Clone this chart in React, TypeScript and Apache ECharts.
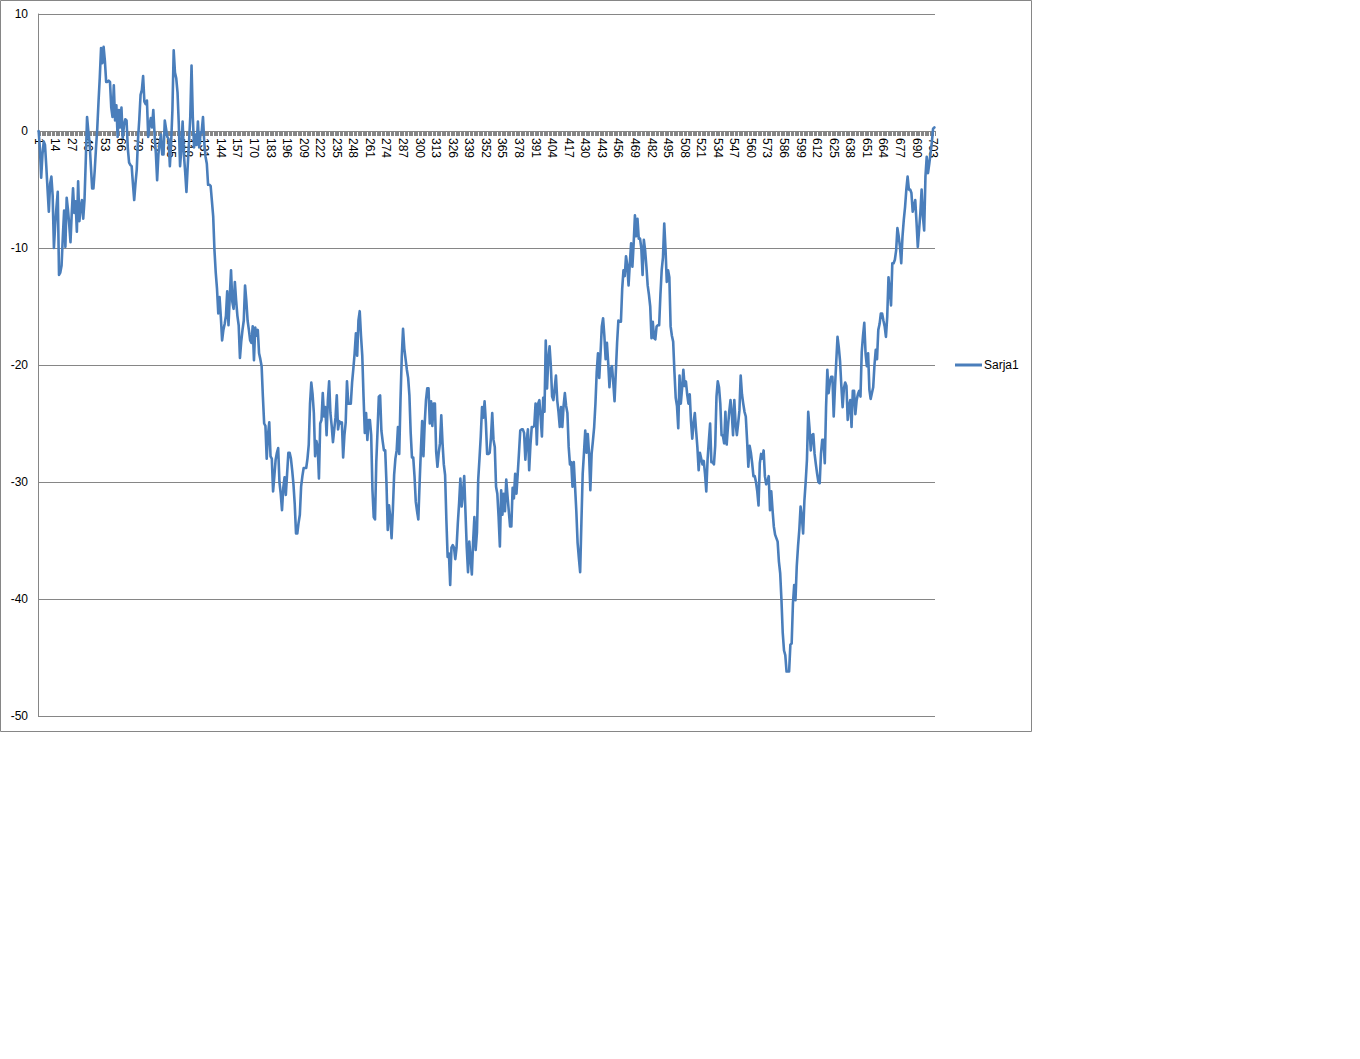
import React, { useEffect, useRef } from "react";
import * as echarts from "echarts";

const seriesName = "Sarja1";

const sarja1: number[] = [
  0.0, -1.5, -4.0, -2.0, -0.9, -1.2, -3.0, -5.0, -6.9, -4.5,
  -3.9, -5.5, -10.0, -8.0, -6.5, -5.2, -12.3, -12.1, -11.5, -9.0,
  -6.8, -9.9, -5.7, -6.7, -8.0, -9.5, -7.0, -4.9, -7.0, -6.0,
  -8.6, -4.3, -7.7, -6.5, -5.9, -7.5, -5.9, -2.5, 1.2, 0.0,
  -1.0, -3.0, -4.9, -4.9, -3.4, -1.5, 0.2, 2.5, 4.6, 7.1,
  5.8, 7.2, 6.0, 4.2, 4.2, 4.3, 4.2, 2.0, 1.2, 3.9,
  0.9, 2.2, -0.5, 1.8, 0.3, 2.0, -0.6, 0.5, 1.0, 0.9,
  -1.5, -2.7, -2.9, -3.0, -4.5, -5.9, -4.5, -3.3, -0.7, 1.0,
  3.1, 3.5, 4.7, 2.5, 2.3, 2.6, -0.5, 0.5, 1.1, 0.3,
  1.8, -0.3, -1.9, -4.2, -2.0, -1.0, -0.3, -2.0, -2.0, 0.9,
  0.2, -0.5, -0.7, -3.0, -1.0, 1.8, 6.9, 5.0, 4.5, 3.3,
  0.6, -3.0, -1.5, 0.8, -2.0, -3.5, -5.2, -3.0, -1.0, 1.2,
  5.6, 1.2, -1.4, -0.3, -1.2, 0.8, -1.4, -0.3, 0.0, 1.2,
  -1.0, -2.2, -2.8, -4.6, -4.6, -4.7, -6.0, -7.3, -10.2, -12.1,
  -13.5, -15.6, -14.2, -15.9, -17.9, -17.0, -16.5, -15.8, -13.7, -16.6,
  -14.2, -11.9, -14.6, -15.2, -12.9, -14.5, -15.8, -16.6, -19.4, -18.0,
  -17.0, -16.2, -13.2, -14.5, -16.2, -17.0, -17.9, -18.1, -16.7, -19.6,
  -16.8, -17.5, -17.0, -19.0, -19.5, -20.1, -22.7, -25.0, -25.2, -28.0,
  -26.0, -24.9, -27.8, -28.0, -30.8, -29.5, -28.1, -27.5, -27.1, -30.0,
  -31.0, -32.4, -30.5, -29.6, -31.1, -29.3, -27.5, -27.5, -28.0, -29.0,
  -30.2, -31.9, -34.4, -34.4, -33.5, -32.8, -30.4, -29.5, -28.8, -28.8,
  -28.8, -28.0, -26.8, -23.3, -21.5, -22.5, -24.1, -27.8, -26.5, -27.0,
  -29.7, -25.0, -24.7, -22.4, -24.4, -23.6, -26.0, -23.0, -21.4, -24.1,
  -25.2, -26.6, -25.5, -24.5, -22.6, -25.5, -24.8, -25.0, -24.9, -27.9,
  -26.0, -24.9, -21.4, -23.3, -23.3, -23.3, -21.5, -20.3, -19.0, -17.3,
  -19.2, -16.2, -15.4, -17.5, -19.2, -22.7, -25.8, -24.1, -26.4, -24.7,
  -24.7, -26.0, -30.7, -33.0, -33.2, -28.3, -25.6, -22.7, -22.6, -25.6,
  -26.5, -27.3, -27.3, -30.1, -34.1, -32.0, -33.0, -34.8, -32.4, -29.4,
  -28.0, -27.3, -25.3, -27.6, -23.0, -19.3, -16.9, -18.6, -19.5, -20.4,
  -21.1, -22.6, -25.8, -27.9, -27.9, -29.5, -31.7, -32.5, -33.2, -30.1,
  -27.3, -24.8, -27.8, -25.0, -23.0, -22.0, -22.0, -25.0, -23.1, -25.2,
  -23.3, -23.3, -27.4, -28.7, -27.5, -26.7, -24.3, -26.7, -28.5, -29.4,
  -33.2, -36.4, -36.1, -38.8, -35.6, -35.4, -35.6, -36.6, -35.6, -33.5,
  -31.8, -29.7, -32.1, -31.0, -29.5, -32.6, -35.6, -37.7, -35.1, -36.5,
  -37.9, -35.1, -33.0, -35.8, -34.3, -29.8, -28.0, -26.1, -23.6, -24.5,
  -23.1, -24.9, -27.6, -27.6, -27.5, -26.2, -24.1, -26.4, -27.0, -30.4,
  -31.0, -33.0, -35.5, -30.7, -32.8, -31.0, -32.5, -29.8, -31.2, -32.5,
  -33.8, -33.8, -30.5, -31.4, -29.3, -31.0, -29.3, -27.5, -25.6, -25.5,
  -25.5, -25.8, -28.1, -26.5, -25.5, -29.0, -26.8, -25.3, -25.3, -25.2,
  -23.3, -26.8, -23.3, -23.0, -24.5, -26.1, -22.8, -24.0, -17.9, -22.0,
  -19.5, -18.4, -20.1, -22.7, -23.0, -22.0, -20.9, -23.0, -24.0, -25.3,
  -23.6, -25.3, -23.5, -22.4, -23.5, -24.1, -27.0, -28.5, -28.3, -30.4,
  -28.3, -30.4, -32.5, -35.2, -36.5, -37.7, -33.4, -29.3, -27.5, -25.6,
  -27.5, -25.9, -27.6, -30.7, -27.6, -26.5, -25.3, -23.3, -20.6, -19.0,
  -21.1, -19.0, -16.7, -16.0, -17.5, -19.5, -18.1, -19.8, -21.9, -20.3,
  -20.1, -21.5, -23.1, -20.6, -18.1, -16.2, -16.3, -16.3, -13.5, -11.9,
  -12.4, -10.7, -11.5, -13.2, -11.3, -9.6, -11.6, -9.6, -7.2, -9.0,
  -7.5, -9.2, -9.2, -10.0, -12.3, -9.3, -10.2, -11.6, -13.2, -14.0,
  -15.0, -17.7, -16.3, -17.7, -17.8, -16.7, -16.6, -16.6, -14.0, -11.9,
  -10.8, -7.9, -10.1, -12.9, -11.9, -12.5, -16.7, -17.5, -18.0, -20.6,
  -22.8, -23.5, -25.4, -20.9, -23.3, -22.0, -20.4, -21.8, -21.4, -22.5,
  -23.3, -22.5, -24.8, -26.3, -25.0, -24.1, -25.6, -27.0, -29.0, -27.5,
  -28.0, -28.5, -28.2, -29.3, -30.8, -28.1, -26.5, -25.0, -28.3, -28.3,
  -28.5, -26.9, -22.7, -21.4, -21.9, -23.3, -26.0, -26.0, -26.7, -24.0,
  -26.8, -25.3, -24.0, -23.0, -24.1, -26.0, -23.0, -25.0, -26.0, -25.0,
  -23.9, -20.9, -22.5, -23.3, -24.0, -24.4, -26.4, -28.7, -26.9, -27.5,
  -28.4, -29.5, -29.5, -30.0, -30.8, -32.0, -28.4, -27.6, -28.0, -27.3,
  -29.5, -30.2, -30.0, -29.5, -32.4, -30.8, -32.4, -33.8, -34.5, -34.8,
  -35.1, -36.8, -37.8, -40.1, -42.9, -44.4, -44.8, -46.2, -46.2, -46.2,
  -43.9, -43.8, -40.4, -38.8, -40.1, -37.2, -35.5, -34.1, -32.1, -33.0,
  -34.4, -31.6, -30.0, -28.1, -24.0, -25.4, -27.3, -26.0, -25.9, -27.6,
  -28.5, -29.3, -30.0, -30.1, -27.6, -26.4, -26.4, -28.4, -23.6, -20.4,
  -22.4, -21.5, -21.0, -21.0, -24.4, -21.9, -19.7, -17.6, -18.5, -19.7,
  -21.8, -23.6, -22.0, -21.5, -21.8, -24.7, -23.5, -23.0, -25.3, -22.2,
  -22.2, -24.2, -23.0, -22.5, -22.2, -22.7, -18.9, -17.5, -16.4, -19.0,
  -20.1, -19.0, -22.1, -22.9, -22.4, -21.9, -20.0, -18.7, -19.5, -17.0,
  -16.5, -15.6, -15.6, -16.2, -16.7, -17.6, -15.9, -12.5, -13.6, -14.9,
  -11.3, -11.3, -11.0, -10.2, -8.3, -9.0, -9.9, -11.3, -9.0, -7.6,
  -6.5, -5.0, -3.9, -5.0, -5.0, -5.3, -6.9, -6.4, -5.9, -7.8,
  -9.9, -8.5, -7.0, -5.0, -7.3, -8.5, -3.9, -2.2, -3.6, -2.8,
  -1.9, -1.0, 0.2, 0.3,
];

// category labels are the running point numbers 1..N, as in the spreadsheet
const categories: string[] = sarja1.map((_, i) => String(i + 1));

const yMin = -50;
const yMax = 10;
const yStep = 10;

const FONT = '"Liberation Sans", Arial, sans-serif';
const GREY = "#868686";
const BLUE = "#4a7ebb";

const GRID_TOP = 14;
const GRID_H = 702;

export default function App() {
  const ref = useRef<HTMLDivElement>(null);

  useEffect(() => {
    if (!ref.current) return;
    const chart = echarts.init(ref.current, null, { renderer: "svg" });
    // the category axis crosses the value axis at 0: shift it up from the grid bottom
    const zeroOffset = -(GRID_H * (0 - yMin)) / (yMax - yMin);
    chart.setOption({
      animation: false,
      backgroundColor: "#ffffff",
      textStyle: { fontFamily: FONT },
      graphic: [
        {
          type: "rect",
          shape: { x: 0.5, y: 0.5, width: 1031, height: 731 },
          style: { fill: "none", stroke: GREY, lineWidth: 1 },
          silent: true,
        },
      ],
      grid: { left: 38, top: GRID_TOP, width: 897, height: GRID_H, containLabel: false },
      legend: {
        show: true,
        left: 955,
        top: 359,
        padding: 0,
        orient: "vertical",
        icon: "rect",
        itemWidth: 27,
        itemHeight: 3,
        itemGap: 4,
        textStyle: { fontFamily: FONT, fontSize: 12, color: "#000", padding: [0, 0, 0, -3] },
        data: [seriesName],
      },
      xAxis: {
        type: "category",
        data: categories,
        boundaryGap: true,
        position: "bottom",
        offset: zeroOffset,
        axisLine: { show: true, onZero: false, lineStyle: { color: GREY, width: 1 } },
        axisTick: {
          show: true,
          interval: 0,
          length: 5,
          lineStyle: { color: GREY, width: 1 },
        },
        axisLabel: {
          interval: 12,
          rotate: -90,
          margin: 7,
          fontFamily: FONT,
          fontSize: 12,
          color: "#000",
        },
        splitLine: { show: false },
      },
      yAxis: {
        type: "value",
        min: yMin,
        max: yMax,
        interval: yStep,
        axisLine: { show: true, lineStyle: { color: GREY, width: 1 } },
        axisTick: { show: false },
        axisLabel: { margin: 10, fontFamily: FONT, fontSize: 12, color: "#000" },
        splitLine: { show: true, lineStyle: { color: GREY, width: 1 } },
      },
      series: [
        {
          name: seriesName,
          type: "line",
          data: sarja1,
          showSymbol: false,
          symbol: "none",
          smooth: false,
          color: BLUE,
          lineStyle: { color: BLUE, width: 2.6, join: "round", cap: "round" },
        },
      ],
    });
    return () => chart.dispose();
  }, []);

  return (
    <div
      ref={ref}
      style={{ position: "absolute", left: 0, top: 0, width: 1360, height: 1059 }}
    />
  );
}
